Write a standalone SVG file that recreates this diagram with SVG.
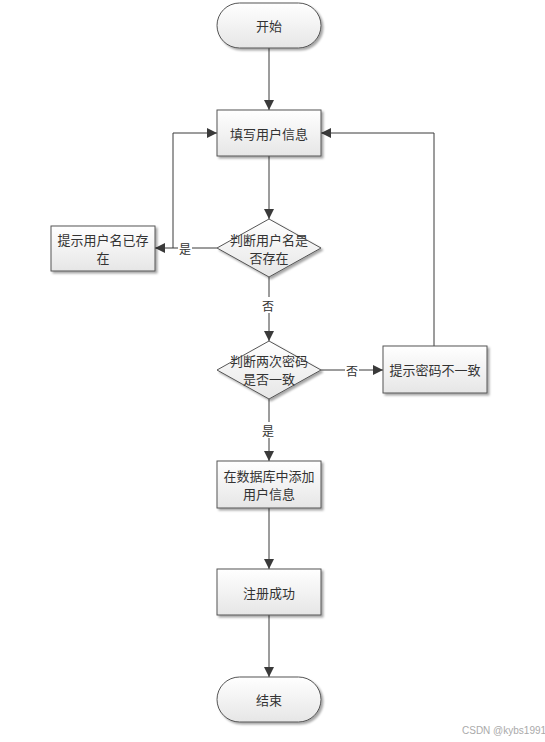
<svg xmlns="http://www.w3.org/2000/svg" width="545" height="742" viewBox="0 0 545 742">
<defs>
<linearGradient id="g" x1="0" y1="0" x2="0" y2="1">
<stop offset="0" stop-color="#ffffff"/>
<stop offset="1" stop-color="#e6e6e6"/>
</linearGradient>
<marker id="a" viewBox="0 0 10 10" refX="10" refY="5" markerWidth="10" markerHeight="10" markerUnits="userSpaceOnUse" orient="auto">
<path d="M0,0 L10,5 L0,10 Z" fill="#3a3a3a"/>
</marker>
<filter id="s" x="-10%" y="-10%" width="130%" height="140%">
<feDropShadow dx="2" dy="2" stdDeviation="1" flood-color="#000" flood-opacity="0.35"/>
</filter>
</defs>
<style>
.n{fill:url(#g);stroke:#555;stroke-width:1;filter:url(#s)}
.t{font-family:"Noto Sans CJK SC","Liberation Sans",sans-serif;font-size:13px;fill:#333;text-anchor:middle;dominant-baseline:central}
.l{font-family:"Noto Sans CJK SC","Liberation Sans",sans-serif;font-size:12px;fill:#333;text-anchor:middle;dominant-baseline:central}
.c{fill:none;stroke:#3a3a3a;stroke-width:1}
.w{font-family:"Liberation Sans",sans-serif;font-size:10px;fill:#aaa}
</style>
<rect width="545" height="742" fill="#fff"/>
<g id="connectors">
<path class="c" d="M269,48 V110" marker-end="url(#a)"/>
<path class="c" d="M269,156 V219" marker-end="url(#a)"/>
<path class="c" d="M217,248 H155" marker-end="url(#a)"/>
<path class="c" d="M173,248 V133 H217" marker-end="url(#a)"/>
<path class="c" d="M269,277 V341" marker-end="url(#a)"/>
<path class="c" d="M321,370 H383" marker-end="url(#a)"/>
<path class="c" d="M434,346 V133 H321" marker-end="url(#a)"/>
<path class="c" d="M269,399 V461" marker-end="url(#a)"/>
<path class="c" d="M269,508 V569" marker-end="url(#a)"/>
<path class="c" d="M269,615 V677" marker-end="url(#a)"/>
<rect x="178" y="240" width="14" height="16" fill="#fff"/>
<text class="l" x="185" y="248">是</text>
<rect x="261" y="297" width="14" height="16" fill="#fff"/>
<text class="l" x="268" y="305">否</text>
<rect x="345" y="362" width="14" height="16" fill="#fff"/>
<text class="l" x="352" y="370">否</text>
<rect x="261" y="422" width="14" height="16" fill="#fff"/>
<text class="l" x="268" y="430">是</text>
</g>
<g id="start">
<rect class="n" x="217" y="3" width="104" height="45" rx="22.5"/>
<text class="t" x="269" y="25.5">开始</text>
</g>
<g id="fill-info">
<rect class="n" x="217" y="110" width="104" height="46"/>
<text class="t" x="269" y="133">填写用户信息</text>
</g>
<g id="check-user">
<polygon class="n" points="269,219 321,248 269,277 217,248"/>
<text class="t" x="269" y="239">判断用户名是</text>
<text class="t" x="269" y="257">否存在</text>
</g>
<g id="user-exists">
<rect class="n" x="51" y="226" width="104" height="45"/>
<text class="t" x="103" y="239">提示用户名已存</text>
<text class="t" x="103" y="257">在</text>
</g>
<g id="check-pwd">
<polygon class="n" points="269,341 321,370 269,399 217,370"/>
<text class="t" x="269" y="360">判断两次密码</text>
<text class="t" x="269" y="378">是否一致</text>
</g>
<g id="pwd-mismatch">
<rect class="n" x="383" y="346" width="104" height="47"/>
<text class="t" x="435" y="369.5">提示密码不一致</text>
</g>
<g id="add-db">
<rect class="n" x="217" y="461" width="104" height="47"/>
<text class="t" x="269" y="475">在数据库中添加</text>
<text class="t" x="269" y="493">用户信息</text>
</g>
<g id="success">
<rect class="n" x="217" y="569" width="104" height="46"/>
<text class="t" x="269" y="592">注册成功</text>
</g>
<g id="end">
<rect class="n" x="217" y="677" width="104" height="45" rx="22.5"/>
<text class="t" x="269" y="699.5">结束</text>
</g>
<text class="w" x="462" y="734">CSDN @kybs1991</text>
</svg>
